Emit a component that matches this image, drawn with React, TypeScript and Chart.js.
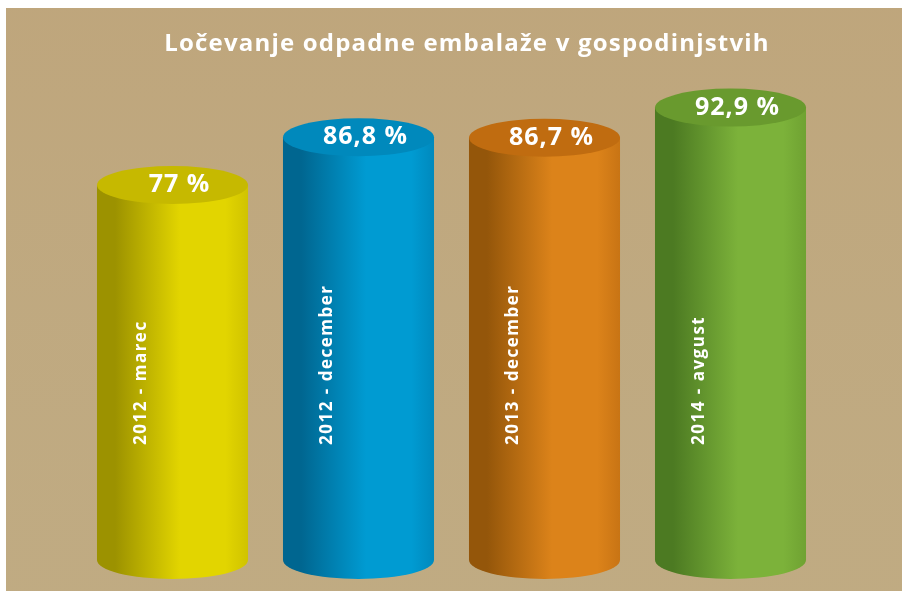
import React, { useEffect, useRef } from "react";
import { Chart, registerables } from "chart.js";

Chart.register(...registerables);

const title = "Ločevanje odpadne embalaže v gospodinjstvih";
const categories = ["2012 - marec", "2012 - december", "2013 - december", "2014 - avgust"];
const values = [77, 86.8, 86.7, 92.9];
const valueLabels = ["77 %", "86,8 %", "86,7 %", "92,9 %"];
const darkColors = ["#9c9200", "#006690", "#94560a", "#4c7a22"];
const brightColors = ["#e2d500", "#009bd2", "#dc831a", "#7cb23a"];
const edgeColors = ["#d0c300", "#0089bd", "#c87414", "#6fa232"];
const topColors = ["#c6b900", "#0089bc", "#c06c10", "#699a2e"];

const cylinderPlugin = {
  id: "cylinders",
  beforeDraw(chart: any) {
    const ctx = chart.ctx;
    ctx.save();
    ctx.fillStyle = "#ffffff";
    ctx.fillRect(0, 0, chart.width, chart.height);
    ctx.fillStyle = "#bfa981";
    ctx.fillRect(6, 8, 896, 583);
    const g = ctx.createLinearGradient(0, 8, 0, 591);
    g.addColorStop(0, "rgba(190,160,115,0.35)");
    g.addColorStop(1, "rgba(195,178,135,0.2)");
    ctx.fillStyle = g;
    ctx.fillRect(6, 8, 896, 583);
    ctx.fillStyle = "#ffffff";
    ctx.font = "bold 24px 'Open Sans', Lato, sans-serif";
    (ctx as any).letterSpacing = "1.2px";
    ctx.textAlign = "center";
    ctx.textBaseline = "middle";
    ctx.fillText(title, 467, 44);
    ctx.restore();
  },
  afterDatasetsDraw(chart: any) {
    const ctx = chart.ctx;
    const meta = chart.getDatasetMeta(0);
    meta.data.forEach((el: any, i: number) => {
      const { x, y, base, width } = el.getProps(["x", "y", "base", "width"], true);
      const left = x - width / 2;
      const right = x + width / 2;
      const rx = width / 2;
      const ry = 19;
      ctx.save();
      const grad = ctx.createLinearGradient(left, 0, right, 0);
      grad.addColorStop(0, darkColors[i]);
      grad.addColorStop(0.12, darkColors[i]);
      grad.addColorStop(0.55, brightColors[i]);
      grad.addColorStop(0.85, brightColors[i]);
      grad.addColorStop(1, edgeColors[i]);
      ctx.beginPath();
      ctx.moveTo(left, y);
      ctx.lineTo(left, base);
      ctx.ellipse(x, base, rx, ry, 0, Math.PI, 0, true);
      ctx.lineTo(right, y);
      ctx.closePath();
      ctx.fillStyle = grad;
      ctx.fill();
      ctx.beginPath();
      ctx.ellipse(x, y, rx, ry, 0, 0, Math.PI * 2);
      ctx.fillStyle = topColors[i];
      ctx.fill();

      ctx.fillStyle = "#ffffff";
      ctx.font = "bold 25px 'Open Sans', Lato, sans-serif";
      (ctx as any).letterSpacing = "1px";
      ctx.textAlign = "center";
      ctx.textBaseline = "middle";
      ctx.fillText(valueLabels[i], x + 7, y);

      ctx.translate(left + 44, 445);
      ctx.rotate(-Math.PI / 2);
      ctx.font = "bold 17px 'Open Sans', Lato, sans-serif";
      (ctx as any).letterSpacing = "1.5px";
      ctx.textAlign = "left";
      ctx.textBaseline = "middle";
      ctx.fillText(categories[i], 0, 0);
      ctx.restore();
    });
  },
};

export default function App() {
  const ref = useRef<HTMLCanvasElement | null>(null);
  useEffect(() => {
    if (!ref.current) return;
    const chart = new Chart(ref.current, {
      type: "bar",
      data: {
        labels: categories,
        datasets: [
          {
            data: values,
            backgroundColor: "rgba(0,0,0,0)",
            borderWidth: 0,
            barPercentage: 0.812,
            categoryPercentage: 1,
          },
        ],
      },
      options: {
        animation: false,
        responsive: true,
        maintainAspectRatio: false,
        layout: { padding: { left: 79.5, right: 83.5, top: 73, bottom: 33 } },
        plugins: { legend: { display: false }, tooltip: { enabled: false }, title: { display: false } },
        scales: {
          x: { display: false },
          y: { display: false, min: 0, max: 100 },
        },
      },
      plugins: [cylinderPlugin],
    });
    return () => chart.destroy();
  }, []);
  return (
    <div style={{ position: "absolute", left: 0, top: 0, width: 907, height: 593 }}>
      <canvas ref={ref} />
    </div>
  );
}
